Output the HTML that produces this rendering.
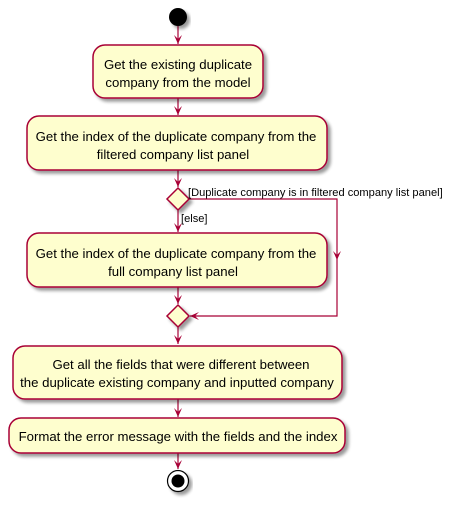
<!DOCTYPE html>
<html><head><style>body{margin:0;background:#fff}</style></head><body>
<svg width="453" height="505" xmlns="http://www.w3.org/2000/svg" font-family="Liberation Sans, sans-serif">
<defs>
<filter id="s" x="-10%" y="-10%" width="130%" height="140%"><feGaussianBlur in="SourceAlpha" stdDeviation="1.5"/><feOffset dx="3" dy="3"/><feComponentTransfer><feFuncA type="linear" slope="0.4"/></feComponentTransfer><feMerge><feMergeNode/><feMergeNode in="SourceGraphic"/></feMerge></filter>
</defs>
<g stroke="#A80036" stroke-width="1.2" fill="none">
<line x1="178" y1="26" x2="178" y2="44"/>
<line x1="178" y1="98" x2="178" y2="115"/>
<line x1="178" y1="170" x2="178" y2="187"/>
<line x1="178" y1="210" x2="178" y2="232"/>
<line x1="178" y1="287" x2="178" y2="304"/>
<line x1="178" y1="327" x2="178" y2="344"/>
<line x1="178" y1="399" x2="178" y2="417"/>
<line x1="178" y1="453" x2="178" y2="469"/>
<polyline points="189,199 337,199 337,316 190,316"/>
</g>
<g fill="#A80036">
<polygon points="174,35 178,44 182,35 178,39"/>
<polygon points="174,106 178,115 182,106 178,110"/>
<polygon points="174,178 178,187 182,178 178,182"/>
<polygon points="174,223 178,232 182,223 178,227"/>
<polygon points="174,295 178,304 182,295 178,299"/>
<polygon points="174,335 178,344 182,335 178,339"/>
<polygon points="174,408 178,417 182,408 178,412"/>
<polygon points="174,460 178,469 182,460 178,464"/>
<polygon points="333,251 337,260 341,251 337,255"/>
<polygon points="199,312 190,316 199,320 195,316"/>
</g>
<circle cx="178" cy="17" r="9" fill="#000" filter="url(#s)"/>
<g fill="#FEFECE" stroke="#A80036" stroke-width="1.5" filter="url(#s)">
<rect x="93" y="45" width="170" height="53" rx="12"/>
<rect x="27" y="116" width="300" height="54" rx="12"/>
<polygon points="178,188 189,199 178,210 167,199"/>
<rect x="27" y="233" width="300" height="54" rx="12"/>
<polygon points="178,305 189,316 178,327 167,316"/>
<rect x="13" y="346" width="329" height="53" rx="12"/>
<rect x="9" y="418" width="336" height="35" rx="12"/>
</g>
<g filter="url(#s)"><circle cx="178" cy="481" r="10.5" fill="#fff" stroke="#000" stroke-width="1.2"/></g>
<circle cx="178" cy="481" r="6.5" fill="#000"/>
<g font-size="13.2" fill="#000" text-anchor="middle">
<text x="178" y="69">Get the existing duplicate</text>
<text x="178" y="87">company from the model</text>
<text x="176" y="141">Get the index of the duplicate company from the</text>
<text x="173" y="159">filtered company list panel</text>
<text x="176" y="258">Get the index of the duplicate company from the</text>
<text x="173" y="276">full company list panel</text>
<text x="181" y="369">Get all the fields that were different between</text>
<text x="177" y="387">the duplicate existing company and inputted company</text>
<text x="178" y="441">Format the error message with the fields and the index</text>
</g>
<g font-size="11.1" fill="#000">
<text x="188" y="196">[Duplicate company is in filtered company list panel]</text>
<text x="181" y="222">[else]</text>
</g>
</svg>
</body></html>
